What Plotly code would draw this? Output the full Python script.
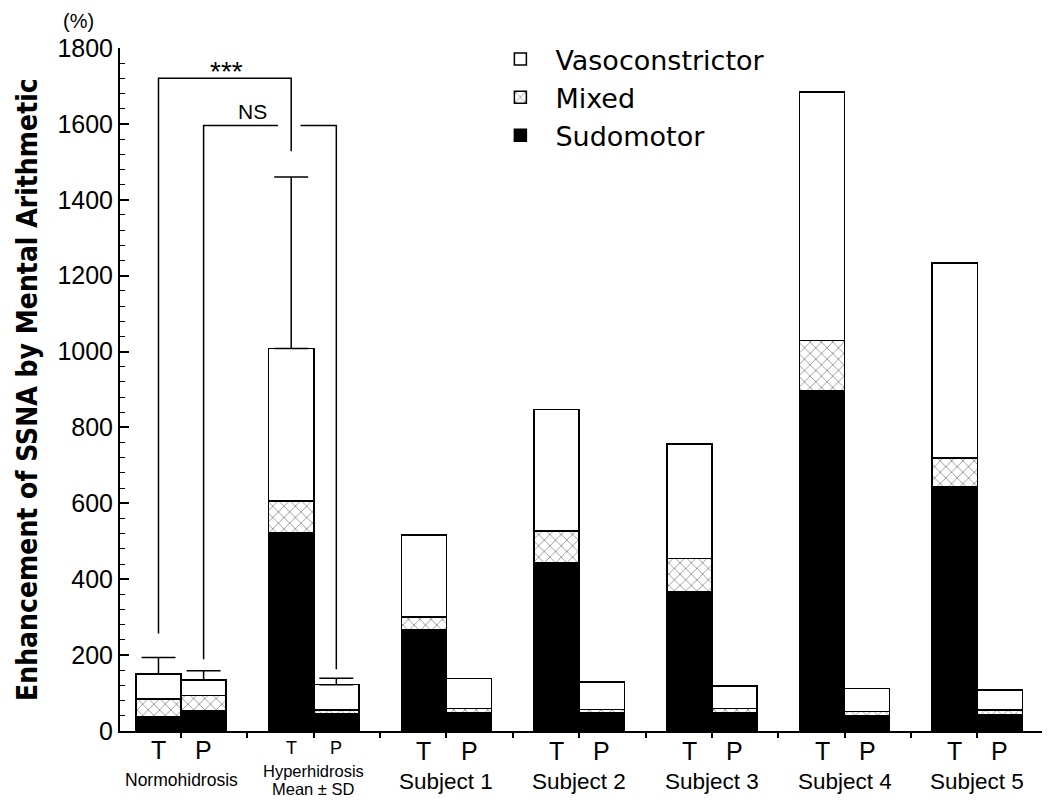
import plotly.graph_objects as go

# ---------------- data ----------------
groups = ["Normohidrosis", "Hyperhidrosis<br>Mean ± SD", "Subject 1", "Subject 2",
          "Subject 3", "Subject 4", "Subject 5"]
conditions = ["T", "P"]

# cumulative heights (%)
t_total = [150, 1008, 516, 847, 756, 1684, 1234]
t_mixed_top = [85, 606, 300, 527, 455, 1029, 719]
t_sudo = [38, 523, 268, 444, 367, 897, 643]

p_total = [135, 122, 139, 129, 119, 112, 108]
p_mixed_top = [94, 55, 59, 57, 59, 51, 55]
p_sudo = [53, 45, 48, 48, 47, 40, 44]

# + SD (upper end of error bars) for the two group means
sd_top_t = [194, 1460]
sd_top_p = [159, 139]

yticks = [0, 200, 400, 600, 800, 1000, 1200, 1400, 1600, 1800]

# ---------------- layout helpers ----------------
BAR_W = 0.34
OFF = 0.17
n = len(groups)
x_t = [g - OFF for g in range(n)]
x_p = [g + OFF for g in range(n)]

xs, sudo, mixed, vaso = [], [], [], []
for i in range(n):
    xs += [x_t[i], x_p[i]]
    sudo += [t_sudo[i], p_sudo[i]]
    mixed += [t_mixed_top[i] - t_sudo[i], p_mixed_top[i] - p_sudo[i]]
    vaso += [t_total[i] - t_mixed_top[i], p_total[i] - p_mixed_top[i]]

line = dict(color="black", width=1.5)
fig = go.Figure()
fig.add_trace(go.Bar(x=xs, y=sudo, width=BAR_W, name="Sudomotor",
                     marker=dict(color="black", line=line)))
fig.add_trace(go.Bar(x=xs, y=mixed, width=BAR_W, name="Mixed",
                     marker=dict(color="white", line=line,
                                 pattern=dict(shape="x", fgcolor="black", bgcolor="white",
                                              size=8, solidity=0.18))))
fig.add_trace(go.Bar(x=xs, y=vaso, width=BAR_W, name="Vasoconstrictor",
                     marker=dict(color="white", line=line)))

# error bars (mean + SD) for the two group means
eb_x = [x_t[0], x_p[0], x_t[1], x_p[1]]
eb_y = [t_total[0], p_total[0], t_total[1], p_total[1]]
eb_top = [sd_top_t[0], sd_top_p[0], sd_top_t[1], sd_top_p[1]]
fig.add_trace(go.Scatter(x=eb_x, y=eb_y, mode="markers",
                         marker=dict(size=1, color="rgba(0,0,0,0)"),
                         showlegend=False, hoverinfo="skip",
                         error_y=dict(type="data", symmetric=False,
                                      array=[a - b for a, b in zip(eb_top, eb_y)],
                                      arrayminus=[0, 0, 0, 0],
                                      color="black", thickness=1.5, width=17)))

# significance brackets
star_top = 1720
star_l_bottom = 257
star_r_bottom = 1528
ns_top = 1596
ns_l_bottom = 189
ns_r_bottom = 163
lk = dict(color="black", width=1.5)
shapes = [
    dict(type="path", xref="x", yref="y", line=lk,
         path=f"M{x_t[0]},{star_l_bottom} L{x_t[0]},{star_top} L{x_t[1]},{star_top} L{x_t[1]},{star_r_bottom}"),
    dict(type="path", xref="x", yref="y", line=lk,
         path=f"M{x_p[0]},{ns_l_bottom} L{x_p[0]},{ns_top} L{x_t[1]-0.1},{ns_top}"),
    dict(type="path", xref="x", yref="y", line=lk,
         path=f"M{x_t[1]+0.07},{ns_top} L{x_p[1]},{ns_top} L{x_p[1]},{ns_r_bottom}"),
]

FONT = "Liberation Sans, Arial, sans-serif"
WIDE = "DejaVu Sans, sans-serif"
COND = "DejaVu Sans Condensed, Liberation Sans Narrow, sans-serif"


def A(**kw):
    d = dict(showarrow=False, xanchor="center", yanchor="middle")
    d.update(kw)
    return d


ann = []
ann.append(A(x=0.34, y=star_top, xref="x", yref="y", text="***", yanchor="bottom", yshift=-11,
             font=dict(size=28, family=FONT, color="black")))
ann.append(A(x=0.54, y=ns_top, xref="x", yref="y", text="NS", yanchor="bottom",
             font=dict(size=21, family=FONT, color="black")))

# x tick labels (positions relative to the x-axis line)
for i in range(n):
    lines = groups[i].split("<br>")
    if i == 0:
        tp_size, tp_shift, g_size, g_shift, g_gap = 25, -19, 17.5, -49, 0
    elif i == 1:
        tp_size, tp_shift, g_size, g_shift, g_gap = 18, -17, 16.5, -40, 18
    else:
        tp_size, tp_shift, g_size, g_shift, g_gap = 25, -20, 22.5, -50, 0
    for k, txt in enumerate(lines):
        ann.append(A(x=i, y=0, xref="x", yref="paper", text=txt, yshift=g_shift - k * g_gap,
                     font=dict(size=g_size, family=FONT, color="black")))
    for xx, c in zip([x_t[i], x_p[i]], conditions):
        ann.append(A(x=xx, y=0, xref="x", yref="paper", text=c, yshift=tp_shift,
                     font=dict(size=tp_size, family=FONT, color="black")))

ann.append(A(x=-0.1, y=0.5, xref="paper", yref="paper", textangle=-90,
             text="<b>Enhancement of SSNA by Mental Arithmetic</b>",
             font=dict(size=28, family=COND, color="black")))
ann.append(A(x=-0.045, y=1.0, xref="paper", yref="paper", text="(%)", yshift=27,
             font=dict(size=20, family=FONT, color="black")))

# the page places the figure 8 px from the window's top-left corner
fig.update_layout(
    width=1042, height=794,
    margin=dict(l=112, r=5, t=40, b=71),
    paper_bgcolor="white", plot_bgcolor="white",
    barmode="stack",
    shapes=shapes, annotations=ann,
    legend=dict(x=0.395, y=1.019, xanchor="left", yanchor="top", traceorder="reversed",
                font=dict(size=27, family=WIDE, color="black"), bgcolor="rgba(0,0,0,0)",
                itemwidth=60, tracegroupgap=0),
    xaxis=dict(range=[-0.46, 6.51], showgrid=False, zeroline=False, showline=True,
               linecolor="black", linewidth=2, ticks="outside", ticklen=5, tickwidth=1.5,
               tickcolor="black", tickvals=[v / 2 for v in range(0, 14)],
               showticklabels=False),
    yaxis=dict(range=[0, 1800], showgrid=False, zeroline=False, showline=True,
               linecolor="black", linewidth=2, ticks="inside", ticklen=9, tickwidth=1.5,
               tickcolor="black", tickvals=yticks,
               tickfont=dict(size=25, family=FONT, color="black"),
               minor=dict(dtick=40, ticks="inside", ticklen=5, tickwidth=1.2, tickcolor="black")),
    showlegend=True,
)

fig.write_html("out.html")
